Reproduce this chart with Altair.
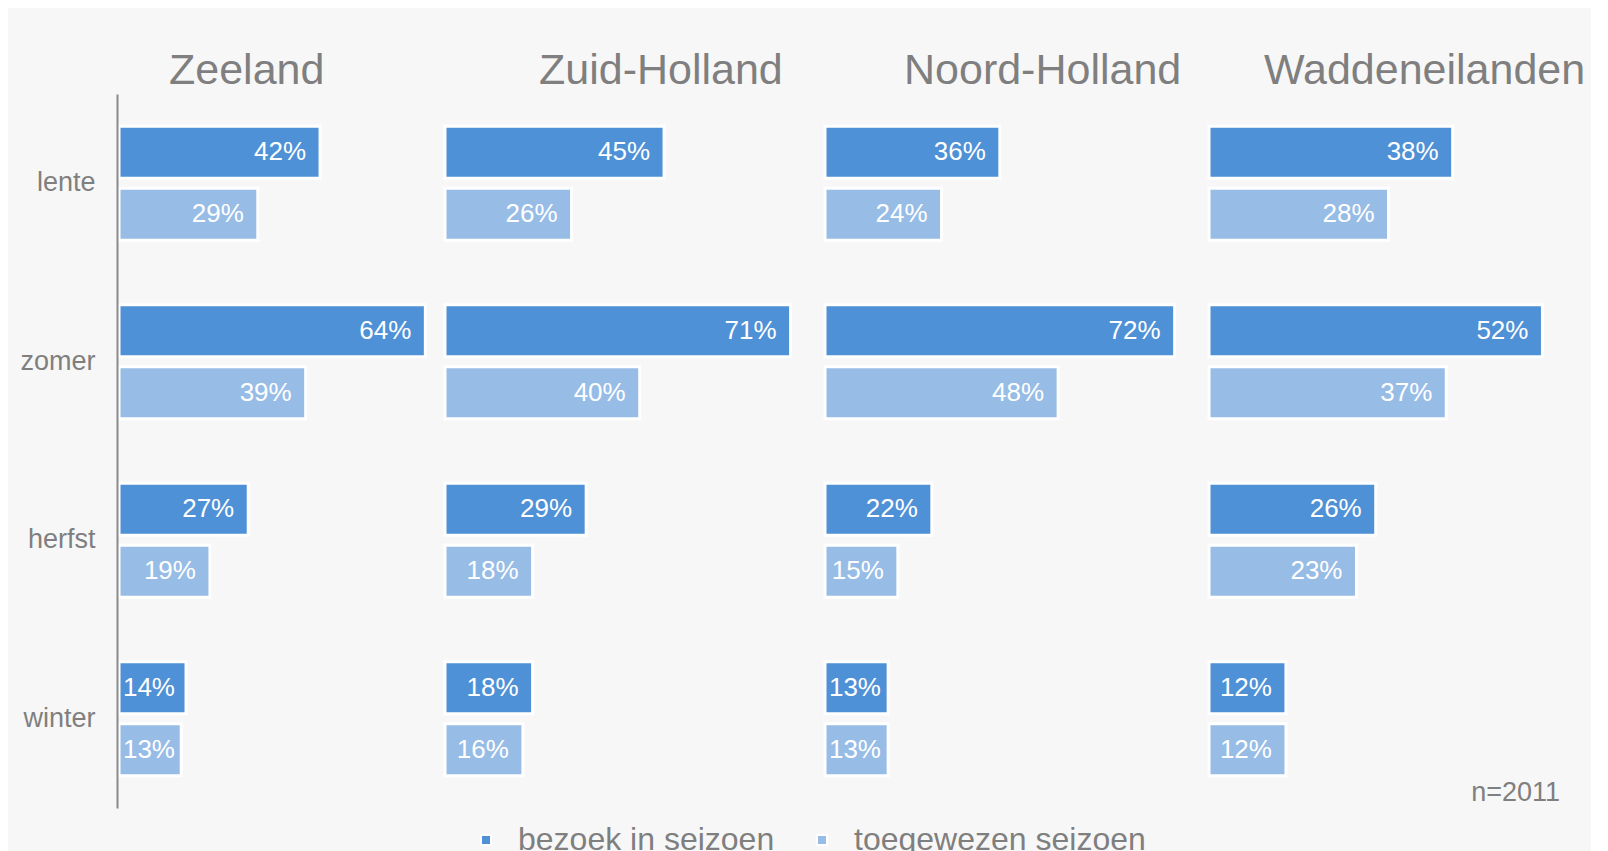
import altair as alt
import pandas as pd

regions = ["Zeeland", "Zuid-Holland", "Noord-Holland", "Waddeneilanden"]
seasons = ["lente", "zomer", "herfst", "winter"]
series = ["bezoek in seizoen", "toegewezen seizoen"]

bezoek = {
    "Zeeland": [42, 64, 27, 14],
    "Zuid-Holland": [45, 71, 29, 18],
    "Noord-Holland": [36, 72, 22, 13],
    "Waddeneilanden": [38, 52, 26, 12],
}
toegewezen = {
    "Zeeland": [29, 39, 19, 13],
    "Zuid-Holland": [26, 40, 18, 16],
    "Noord-Holland": [24, 48, 15, 13],
    "Waddeneilanden": [28, 37, 23, 12],
}
note = "n=2011"

# layout/style settings
x_max = {"Zeeland": 65.6, "Zuid-Holland": 75.6, "Noord-Holland": 76.6, "Waddeneilanden": 57.7}
panel_w = {"Zeeland": 314, "Zuid-Holland": 368, "Noord-Holland": 372, "Waddeneilanden": 370}
title_dx = {"Zeeland": 50, "Zuid-Holland": 94, "Noord-Holland": 79, "Waddeneilanden": 55}
DARK = "#4f91d6"
LIGHT = "#97bce6"
GRAY = "#7f7f7f"
FONT = "Liberation Sans"
H = 714
LABEL_MIN_PX = 70  # smallest right-edge anchor for a label inside a bar


def region_df(r):
    rows = []
    for i, s in enumerate(seasons):
        rows.append({"season": s, "series": series[0], "value": bezoek[r][i], "label": f"{bezoek[r][i]}%"})
        rows.append({"season": s, "series": series[1], "value": toegewezen[r][i], "label": f"{toegewezen[r][i]}%"})
    return pd.DataFrame(rows)


panels = []
for idx, r in enumerate(regions):
    df = region_df(r)
    min_units = LABEL_MIN_PX * x_max[r] / panel_w[r]
    if idx == 0:
        yaxis = alt.Axis(title=None, ticks=False, labelFontSize=27, labelColor=GRAY, labelFont=FONT,
                         labelPadding=22, domainColor="#8a8a8a", domainWidth=2, offset=2, zindex=1,
                         grid=False)
    else:
        yaxis = None
    base = alt.Chart(df).encode(
        y=alt.Y("season:N", sort=seasons, axis=yaxis,
                scale=alt.Scale(paddingInner=0.36, paddingOuter=0.18)),
        yOffset=alt.YOffset("series:N", sort=series, scale=alt.Scale(paddingInner=0.16)),
    )
    bars = base.mark_bar(stroke="white", strokeWidth=3).encode(
        x=alt.X("value:Q", scale=alt.Scale(domain=[0, x_max[r]], nice=False), axis=None),
        color=alt.Color("series:N", sort=series,
                        scale=alt.Scale(domain=series, range=[DARK, LIGHT]),
                        legend=alt.Legend(title=None, orient="none", direction="horizontal",
                                          legendX=351, legendY=730, labelLimit=0,
                                          labelFontSize=32, labelColor=GRAY, labelFont=FONT,
                                          symbolType="square", symbolSize=100,
                                          symbolStrokeColor="white", symbolStrokeWidth=2,
                                          labelOffset=16, columnPadding=31)),
    )
    labels = base.transform_calculate(
        lx=f"max(datum.value, {min_units})"
    ).mark_text(align="right", baseline="middle", dx=-14, color="white",
                fontSize=26, font=FONT).encode(
        x=alt.X("lx:Q"),
        text="label:N",
    )
    layers = [bars, labels]
    if r == "Waddeneilanden":
        nt = alt.Chart(pd.DataFrame({"t": [note]})).mark_text(
            align="right", baseline="alphabetic", fontSize=27, color=GRAY, font=FONT
        ).encode(x=alt.value(351), y=alt.value(707), text="t:N")
        layers.append(nt)
    panel = alt.layer(*layers).properties(
        width=panel_w[r], height=H,
        title=alt.TitleParams(r, anchor="start", frame="group", dx=title_dx[r], dy=41, fontSize=43,
                              color=GRAY, font=FONT, fontWeight="normal", baseline="alphabetic",
                              offset=8),
    )
    panels.append(panel)

chart = alt.hconcat(*panels, spacing=10).properties(
    background="#f7f7f7",
    padding={"top": 42, "left": 11, "right": 5, "bottom": 5},
).configure_view(stroke=None)

chart.save("out.html", embed_options={"renderer": "svg", "actions": False})
